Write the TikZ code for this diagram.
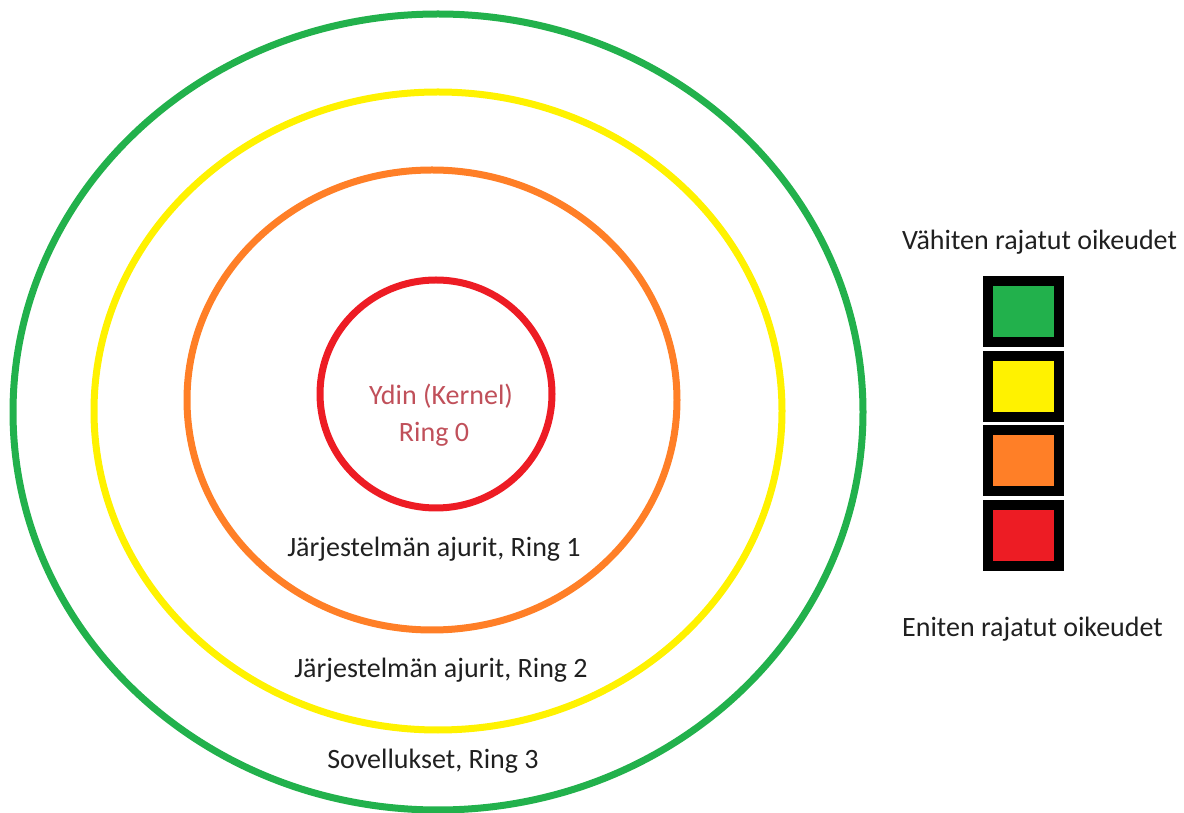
\documentclass[tikz,border=0pt]{standalone}
\usepackage{fontspec}
\setmainfont{Carlito}
\usetikzlibrary{positioning}
\definecolor{ringgreen}{RGB}{34,177,76}
\definecolor{ringyellow}{RGB}{255,242,0}
\definecolor{ringorange}{RGB}{255,127,39}
\definecolor{ringred}{RGB}{237,28,36}
\definecolor{kerneltext}{RGB}{192,80,90}
\definecolor{labeltext}{RGB}{32,32,32}
\begin{document}
\begin{tikzpicture}[x=1pt,y=1pt,line join=round,line cap=round,font=\fontsize{28}{30}\selectfont,
	ring/.style={line width=7pt},
	lbl/.style={text=labeltext,inner sep=0pt,anchor=base},
	swatch/.style={draw=black,line width=10pt,line join=miter,minimum width=71pt,minimum height=61pt,inner sep=0pt}]
			\useasboundingbox (0,0) rectangle (1184,812);
			% rings
			\draw[ring,ringgreen] (438,400) ellipse [x radius=425,y radius=398];
			\draw[ring,ringyellow] (438,401) ellipse [x radius=344,y radius=319];
			\draw[ring,ringorange] (432,412) ellipse [x radius=245,y radius=230];
			\draw[ring,ringred] (436,418) ellipse [x radius=116,y radius=114];
			
			\node[lbl,text=kerneltext] (kernel) at (441,407) {Ydin (Kernel)};
			\node[lbl,text=kerneltext] (ring0) at (434,370) {Ring 0};
			\node[lbl] (ring1) at (434,255) {Järjestelmän ajurit, Ring 1};
			\node[lbl] (ring2) at (441,135) {Järjestelmän ajurit, Ring 2};
			\node[lbl] (ring3) at (433,44) {Sovellukset, Ring 3};
			
			% legend
			\node[lbl,anchor=base west] (least) at (902,562) {Vähiten rajatut oikeudet};
			\node[swatch,fill=ringgreen] (sgreen) at (1023.5,500) {};
			\node[swatch,fill=ringyellow,below=3.5pt of sgreen] (syellow) {};
			\node[swatch,fill=ringorange,below=3.5pt of syellow] (sorange) {};
			\node[swatch,fill=ringred,below=3.5pt of sorange] (sred) {};
			\node[lbl,anchor=base west] (most) at (902,175) {Eniten rajatut oikeudet};
		\end{tikzpicture}
\end{document}
